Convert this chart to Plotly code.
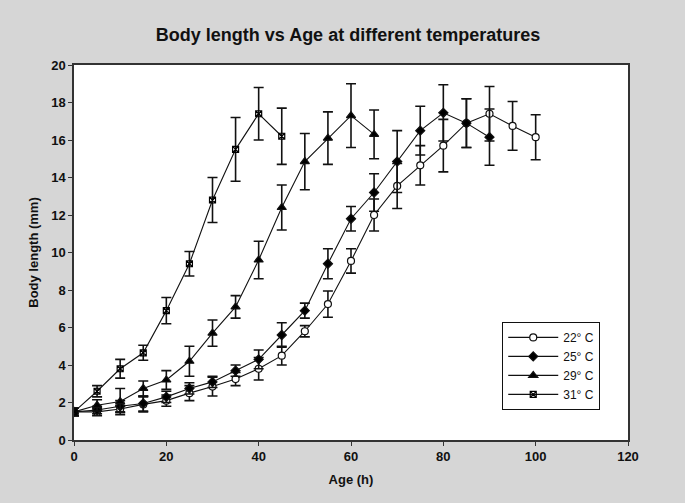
import plotly.graph_objects as go

# ---- data ----
age_22 = [0, 5, 10, 15, 20, 25, 30, 35, 40, 45, 50, 55, 60, 65, 70, 75, 80, 85, 90, 95, 100]
len_22 = [1.5, 1.5, 1.65, 1.9, 2.1, 2.5, 2.85, 3.25, 3.8, 4.5, 5.8, 7.25, 9.55, 12.0, 13.55, 14.65, 15.7, 16.9, 17.4, 16.75, 16.15]
err_22 = [0.2, 0.2, 0.2, 0.4, 0.3, 0.4, 0.5, 0.35, 0.6, 0.5, 0.3, 0.7, 0.65, 0.85, 1.2, 1.05, 1.4, 1.3, 1.45, 1.3, 1.2]

age_25 = [0, 5, 10, 15, 20, 25, 30, 35, 40, 45, 50, 55, 60, 65, 70, 75, 80, 85, 90]
len_25 = [1.5, 1.6, 1.8, 1.95, 2.3, 2.75, 3.1, 3.7, 4.3, 5.6, 6.9, 9.4, 11.8, 13.2, 14.85, 16.5, 17.45, 16.9, 16.15]
err_25 = [0.2, 0.2, 0.3, 0.4, 0.3, 0.3, 0.3, 0.3, 0.5, 0.65, 0.4, 0.8, 0.65, 1.0, 1.65, 1.3, 1.5, 1.3, 1.5]

age_29 = [0, 5, 10, 15, 20, 25, 30, 35, 40, 45, 50, 55, 60, 65]
len_29 = [1.5, 1.85, 2.05, 2.75, 3.2, 4.2, 5.7, 7.1, 9.6, 12.4, 14.85, 16.1, 17.3, 16.3]
err_29 = [0.2, 0.3, 0.7, 0.4, 0.5, 0.8, 0.7, 0.6, 1.0, 1.2, 1.5, 1.4, 1.7, 1.3]

age_31 = [0, 5, 10, 15, 20, 25, 30, 35, 40, 45]
len_31 = [1.5, 2.6, 3.8, 4.65, 6.9, 9.4, 12.8, 15.5, 17.4, 16.2]
err_31 = [0.2, 0.3, 0.5, 0.4, 0.7, 0.65, 1.2, 1.7, 1.4, 1.5]

series_names = ["22° C", "25° C", "29° C", "31° C"]
x_ticks = [0, 20, 40, 60, 80, 100, 120]
y_ticks = [0, 2, 4, 6, 8, 10, 12, 14, 16, 18, 20]

styles = [
    dict(symbol="circle", size=7, color="white"),
    dict(symbol="diamond", size=7, color="black"),
    dict(symbol="triangle-up", size=8, color="black"),
    dict(symbol="square-x-open", size=6, color="black"),
]
data = [(age_22, len_22, err_22), (age_25, len_25, err_25),
        (age_29, len_29, err_29), (age_31, len_31, err_31)]

fig = go.Figure()
for name, (xs, ys, es), st in zip(series_names, data, styles):
    fig.add_trace(go.Scatter(
        x=xs, y=ys, name=name, mode="lines+markers",
        line=dict(color="#111", width=1.1),
        marker=dict(symbol=st["symbol"], size=st["size"], color=st["color"],
                    line=dict(color="#111", width=1.2)),
        error_y=dict(type="data", array=es, visible=True, color="#111",
                     thickness=1.6, width=5),
    ))

font_family = "Liberation Sans, Arial, sans-serif"
fig.update_layout(
    width=685, height=503,
    margin=dict(l=74, r=57, t=65, b=63),
    paper_bgcolor="#d6d6d6",
    plot_bgcolor="white",
    font=dict(family=font_family, color="#111", size=13),
    title=dict(text="<b>Body length vs Age at different temperatures</b>",
               x=348 / 685, xanchor="center", y=1 - 35 / 503, yanchor="middle",
               font=dict(size=18, family=font_family, color="#111")),
    showlegend=True,
    legend=dict(x=0.773, y=0.315, xanchor="left", yanchor="top",
                bgcolor="white", bordercolor="#111", borderwidth=1,
                font=dict(size=12, family=font_family, color="#111"),
                itemwidth=50),
    xaxis=dict(range=[0, 120], tickvals=x_ticks, ticktext=[f"<b>{v}</b>" for v in x_ticks],
               showgrid=False, zeroline=False, showline=True, mirror=True,
               linecolor="#333", linewidth=1.5, ticks="outside", ticklen=4,
               tickcolor="#333",
               title=dict(text="<b>Age (h)</b>", font=dict(size=13), standoff=12)),
    yaxis=dict(range=[0, 20], tickvals=y_ticks, ticktext=[f"<b>{v}</b>" for v in y_ticks],
               showgrid=False, zeroline=False, showline=True, mirror=True,
               linecolor="#333", linewidth=1.5, ticks="outside", ticklen=4,
               tickcolor="#333",
               title=dict(text="<b>Body length (mm)</b>", font=dict(size=13), standoff=10)),
)

fig.write_html("out.html")
